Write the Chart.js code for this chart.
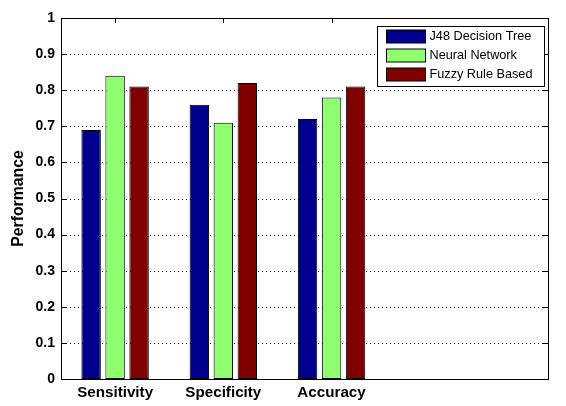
<!DOCTYPE html>
<html><head><meta charset="utf-8">
<style>html,body{margin:0;padding:0;background:#fff;overflow:hidden;}</style>
<script src="https://cdn.jsdelivr.net/npm/chart.js@4.4.0/dist/chart.umd.min.js"></script>
</head><body>
<canvas id="c" width="566" height="406" style="display:block;width:566px;height:406px;"></canvas>
<script>
// ---- data ----
const categories = ['Sensitivity', 'Specificity', 'Accuracy'];
const seriesNames = ['J48 Decision Tree', 'Neural Network', 'Fuzzy Rule Based'];
const j48Values = [0.69, 0.76, 0.72];
const neuralValues = [0.84, 0.71, 0.78];
const fuzzyValues = [0.81, 0.82, 0.81];
const yTickValues = [0, 0.1, 0.2, 0.3, 0.4, 0.5, 0.6, 0.7, 0.8, 0.9, 1];
const yTickLabels = ['0', '0.1', '0.2', '0.3', '0.4', '0.5', '0.6', '0.7', '0.8', '0.9', '1'];
const seriesColors = ['#00008F', '#8FFF70', '#800000'];
const yTitle = 'Performance';

const seriesValues = [j48Values, neuralValues, fuzzyValues];
const FONT = '"Liberation Sans", Arial, Helvetica, sans-serif';

const datasets = seriesNames.map((name, s) => ({
  label: name,
  data: seriesValues[s].map((v, i) => ({ x: i + 1, y: v })),
  backgroundColor: seriesColors[s],
  borderColor: '#000',
  borderWidth: 1,
  borderSkipped: false,
  categoryPercentage: 0.665,
  barPercentage: 0.81
}));

const matlabAxes = {
  id: 'matlabAxes',
  beforeDatasetsDraw(chart) {
    const ctx = chart.ctx;
    const { left, right, top, bottom } = chart.chartArea;
    const xs = chart.scales.x, ys = chart.scales.y;
    ctx.save();
    ctx.strokeStyle = '#000';
    ctx.lineWidth = 1;
    // dotted grid
    ctx.setLineDash([1, 3]);
    yTickValues.forEach(v => {
      if (v === 0 || v === 1) return;
      const py = Math.round(ys.getPixelForValue(v)) + 0.5;
      ctx.beginPath();
      ctx.moveTo(left + 1, py);
      ctx.lineTo(right, py);
      ctx.stroke();
    });
    ctx.setLineDash([]);
    // inward y ticks
    yTickValues.forEach(v => {
      const py = Math.round(ys.getPixelForValue(v)) + 0.5;
      ctx.beginPath();
      ctx.moveTo(left, py); ctx.lineTo(left + 5, py);
      ctx.moveTo(right + 1, py); ctx.lineTo(right - 5, py);
      ctx.stroke();
    });
    // inward x ticks
    categories.forEach((c, i) => {
      const px = Math.round(xs.getPixelForValue(i + 1)) + 0.5;
      ctx.beginPath();
      ctx.moveTo(px, top); ctx.lineTo(px, top + 5);
      ctx.moveTo(px, bottom + 1); ctx.lineTo(px, bottom - 4);
      ctx.stroke();
    });
    ctx.restore();
  },
  afterDatasetsDraw(chart) {
    const ctx = chart.ctx;
    const { left, right, top, bottom } = chart.chartArea;
    ctx.save();
    ctx.strokeStyle = '#000';
    ctx.lineWidth = 1;
    ctx.strokeRect(Math.round(left) + 0.5, Math.round(top) + 0.5,
                   Math.round(right - left), Math.round(bottom - top));
    ctx.restore();
  },
  afterDraw(chart) {
    const ctx = chart.ctx;
    const { right, top } = chart.chartArea;
    const boxW = 167, boxH = 60;
    const bx = Math.round(right - 4 - boxW) + 0.5;
    const by = Math.round(top + 8) + 0.5;
    ctx.save();
    ctx.fillStyle = '#fff';
    ctx.fillRect(bx, by, boxW, boxH);
    ctx.strokeStyle = '#000';
    ctx.lineWidth = 1;
    ctx.strokeRect(bx, by, boxW, boxH);
    ctx.font = '12.7px ' + FONT;
    ctx.textBaseline = 'middle';
    ctx.textAlign = 'left';
    chart.data.datasets.forEach((ds, i) => {
      const cy = by + 10 + i * 19;
      ctx.fillStyle = ds.backgroundColor;
      ctx.fillRect(bx + 9, Math.round(cy - 7) , 39, 13);
      ctx.strokeStyle = '#000';
      ctx.strokeRect(bx + 9, Math.round(cy - 7), 39, 13);
      ctx.fillStyle = '#000';
      ctx.fillText(ds.label, bx + 52, cy);
    });
    ctx.restore();
  }
};

new Chart(document.getElementById('c'), {
  type: 'bar',
  data: { datasets },
  options: {
    responsive: false,
    animation: false,
    devicePixelRatio: 1,
    layout: { padding: { top: 18, right: 18, left: 0, bottom: 0 } },
    plugins: { legend: { display: false }, tooltip: { enabled: false } },
    scales: {
      x: {
        type: 'linear',
        min: 0.5,
        max: 5,
        offset: false,
        grid: { display: false, drawTicks: false },
        border: { display: false },
        afterBuildTicks: s => { s.ticks = categories.map((c, i) => ({ value: i + 1 })); },
        afterFit: s => { s.height = 27; },
        ticks: {
          autoSkip: false,
          maxRotation: 0,
          padding: 5,
          color: '#000',
          font: { family: FONT, size: 15.2, weight: 'bold' },
          callback: v => categories[Math.round(v) - 1] || ''
        }
      },
      y: {
        min: 0,
        max: 1,
        grid: { display: false, drawTicks: false },
        border: { display: false },
        afterBuildTicks: s => { s.ticks = yTickValues.map(v => ({ value: v })); },
        afterFit: s => { s.width = 61; },
        ticks: {
          padding: 6,
          color: '#000',
          font: { family: FONT, size: 14, weight: 'bold' },
          callback: (v, i) => yTickLabels[i]
        },
        title: {
          display: true,
          text: yTitle,
          color: '#000',
          padding: { top: 9.5, bottom: 0 },
          font: { family: FONT, size: 15.8, weight: 'bold' }
        }
      }
    }
  },
  plugins: [matlabAxes]
});
</script>
</body></html>
